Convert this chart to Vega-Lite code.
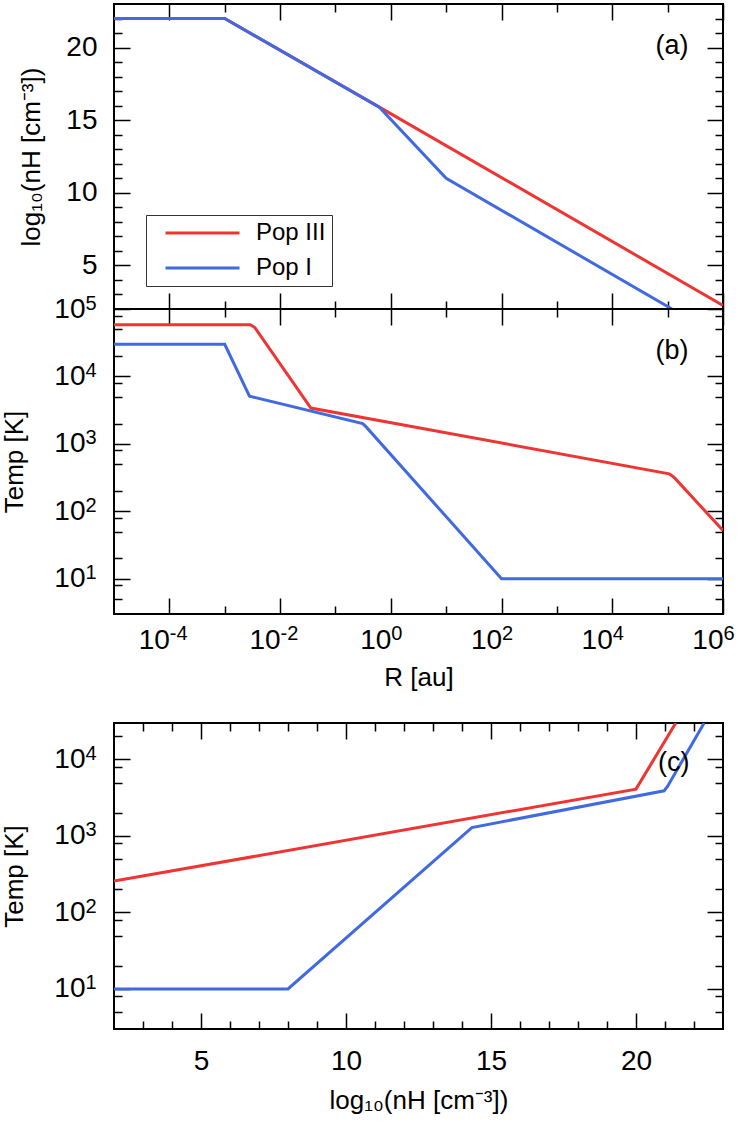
{
  "$schema": "https://vega.github.io/schema/vega-lite/v6.json",
  "padding": {"left": 0, "top": 2, "right": 0, "bottom": 0},
  "datasets": {
    "dens": [
      {"pop": "Pop III", "R": 1e-5, "logn": 22},
      {"pop": "Pop III", "R": 0.001, "logn": 22},
      {"pop": "Pop III", "R": 0.62, "logn": 15.9},
      {"pop": "Pop III", "R": 1000000, "logn": 2.25},
      {"pop": "Pop I", "R": 1e-5, "logn": 22},
      {"pop": "Pop I", "R": 0.001, "logn": 22},
      {"pop": "Pop I", "R": 0.62, "logn": 15.9},
      {"pop": "Pop I", "R": 10, "logn": 11},
      {"pop": "Pop I", "R": 120000, "logn": 2.0}
    ],
    "temp": [
      {"pop": "Pop III", "R": 1e-5, "T": 58500},
      {"pop": "Pop III", "R": 0.0029, "T": 58500},
      {"pop": "Pop III", "R": 0.0035, "T": 53000},
      {"pop": "Pop III", "R": 0.036, "T": 3400},
      {"pop": "Pop III", "R": 107000, "T": 360},
      {"pop": "Pop III", "R": 130000, "T": 320},
      {"pop": "Pop III", "R": 1000000, "T": 52},
      {"pop": "Pop I", "R": 1e-5, "T": 30000},
      {"pop": "Pop I", "R": 0.001, "T": 30000},
      {"pop": "Pop I", "R": 0.0028, "T": 5100},
      {"pop": "Pop I", "R": 0.31, "T": 2000},
      {"pop": "Pop I", "R": 0.355, "T": 1800},
      {"pop": "Pop I", "R": 100, "T": 10},
      {"pop": "Pop I", "R": 1000000, "T": 10}
    ],
    "tn": [
      {"pop": "Pop III", "logn": 2, "T": 257},
      {"pop": "Pop III", "logn": 20, "T": 4100},
      {"pop": "Pop III", "logn": 21.37, "T": 30000},
      {"pop": "Pop I", "logn": 2, "T": 10},
      {"pop": "Pop I", "logn": 8, "T": 10},
      {"pop": "Pop I", "logn": 14.34, "T": 1290},
      {"pop": "Pop I", "logn": 20.97, "T": 3900},
      {"pop": "Pop I", "logn": 21.08, "T": 4400},
      {"pop": "Pop I", "logn": 22.35, "T": 30000}
    ]
  },
  "vconcat": [
    {
      "vconcat": [
        {
          "width": 609,
          "height": 305,
          "layer": [
            {
              "data": {"name": "dens"},
              "mark": {"type": "line", "strokeWidth": 3, "clip": true},
              "encoding": {
                "x": {"field": "R", "type": "quantitative", "scale": {"type": "log", "domain": [1e-5, 1000000], "nice": false},
                  "axis": {"orient": "bottom", "values": [0.0001, 0.01, 1, 100, 10000, 1000000], "labels": false, "tickSize": -16, "title": null}},
                "y": {"field": "logn", "type": "quantitative", "scale": {"domain": [2, 23], "nice": false, "zero": false},
                  "axis": {"orient": "left", "values": [5, 10, 15, 20], "tickSize": -16, "labelPadding": 33, "title": "log₁₀(nH [cm⁻³])", "titlePadding": 21}},
                "color": {"field": "pop", "type": "nominal", "scale": {"domain": ["Pop III", "Pop I"], "range": ["#EF3434", "#4169E1"]},
                  "legend": {"orient": "none", "legendX": 32, "legendY": 211, "title": null, "symbolType": "stroke", "symbolSize": 5476, "symbolStrokeWidth": 3, "symbolOffset": 12, "labelFontSize": 24, "labelFont": "Liberation Sans", "labelColor": "black", "strokeColor": "#333333", "fillColor": "white", "padding": 6, "labelOffset": 15, "clipHeight": 24, "rowPadding": 11}}
              }
            },
            {
              "data": {"name": "dens"},
              "mark": {"type": "point", "opacity": 0, "size": 1},
              "encoding": {
                "x": {"field": "R", "type": "quantitative", "axis": {"orient": "bottom", "values": [0.001, 0.1, 10, 1000, 100000], "labels": false, "tickSize": -8, "title": null}},
                "y": {"field": "logn", "type": "quantitative", "axis": {"orient": "left", "values": [3, 4, 6, 7, 8, 9, 11, 12, 13, 14, 16, 17, 18, 19, 21, 22], "labels": false, "tickSize": -8, "title": null}}
              }
            },
            {
              "data": {"name": "dens"},
              "mark": {"type": "point", "opacity": 0, "size": 1},
              "encoding": {
                "x": {"field": "R", "type": "quantitative", "axis": {"orient": "top", "values": [0.0001, 0.01, 1, 100, 10000, 1000000], "labels": false, "tickSize": -16, "title": null}},
                "y": {"field": "logn", "type": "quantitative", "axis": {"orient": "right", "values": [5, 10, 15, 20], "labels": false, "tickSize": -16, "title": null}}
              }
            },
            {
              "data": {"name": "dens"},
              "mark": {"type": "point", "opacity": 0, "size": 1},
              "encoding": {
                "x": {"field": "R", "type": "quantitative", "axis": {"orient": "top", "values": [0.001, 0.1, 10, 1000, 100000], "labels": false, "tickSize": -8, "title": null}},
                "y": {"field": "logn", "type": "quantitative", "axis": {"orient": "right", "values": [3, 4, 6, 7, 8, 9, 11, 12, 13, 14, 16, 17, 18, 19, 21, 22], "labels": false, "tickSize": -8, "title": null}}
              }
            },
            {
              "data": {"values": [{"label": "(a)", "R": 120000, "logn": 20.1}]},
              "mark": {"type": "text", "fontSize": 27, "font": "Liberation Sans", "color": "black"},
              "encoding": {
                "x": {"field": "R", "type": "quantitative", "axis": null},
                "y": {"field": "logn", "type": "quantitative", "axis": null},
                "text": {"field": "label"}
              }
            }
          ],
          "resolve": {"axis": {"x": "independent", "y": "independent"}}
        },
        {
          "width": 609,
          "height": 305,
          "layer": [
            {
              "data": {"name": "temp"},
              "mark": {"type": "line", "strokeWidth": 3, "clip": true},
              "encoding": {
                "x": {"field": "R", "type": "quantitative", "scale": {"type": "log", "domain": [1e-5, 1000000], "nice": false},
                  "axis": {"orient": "bottom", "values": [0.0001, 0.01, 1, 100, 10000, 1000000], "tickSize": -16, "labelPadding": 28, "labelAlign": "right", "labelDx": 3, "labelExpr": "'10'", "title": "R [au]", "titlePadding": 10}},
                "y": {"field": "T", "type": "quantitative", "scale": {"type": "log", "domain": [3, 100000], "nice": false},
                  "axis": {"orient": "left", "values": [10, 100, 1000, 10000, 100000], "tickSize": -16, "labelPadding": 45, "labelDy": 1, "labelExpr": "'10'", "title": "Temp [K]", "titlePadding": 26}},
                "color": {"field": "pop", "type": "nominal", "scale": {"domain": ["Pop III", "Pop I"], "range": ["#EF3434", "#4169E1"]}, "legend": null}
              }
            },
            {
              "data": {"name": "temp"},
              "mark": {"type": "point", "opacity": 0, "size": 1},
              "encoding": {
                "x": {"field": "R", "type": "quantitative", "axis": {"orient": "bottom", "values": [0.001, 0.1, 10, 1000, 100000], "labels": false, "tickSize": -8, "title": null}},
                "y": {"field": "T", "type": "quantitative", "axis": {"orient": "left", "values": [5, 8, 20, 50, 80, 200, 500, 800, 2000, 5000, 8000, 20000, 50000, 80000], "labels": false, "tickSize": -8, "title": null}}
              }
            },
            {
              "data": {"name": "temp"},
              "mark": {"type": "point", "opacity": 0, "size": 1},
              "encoding": {
                "x": {"field": "R", "type": "quantitative", "axis": {"orient": "top", "values": [0.0001, 0.01, 1, 100, 10000, 1000000], "labels": false, "tickSize": -16, "title": null}},
                "y": {"field": "T", "type": "quantitative", "axis": {"orient": "right", "values": [10, 100, 1000, 10000, 100000], "labels": false, "tickSize": -16, "title": null}}
              }
            },
            {
              "data": {"name": "temp"},
              "mark": {"type": "point", "opacity": 0, "size": 1},
              "encoding": {
                "x": {"field": "R", "type": "quantitative", "axis": {"orient": "top", "values": [0.001, 0.1, 10, 1000, 100000], "labels": false, "tickSize": -8, "title": null}},
                "y": {"field": "T", "type": "quantitative", "axis": {"orient": "right", "values": [5, 8, 20, 50, 80, 200, 500, 800, 2000, 5000, 8000, 20000, 50000, 80000], "labels": false, "tickSize": -8, "title": null}}
              }
            },
            {
              "data": {"name": "temp"},
              "mark": {"type": "point", "opacity": 0, "size": 1},
              "encoding": {
                "x": {"field": "R", "type": "quantitative", "axis": {"orient": "bottom", "values": [0.0001, 0.01, 1, 100, 10000, 1000000], "tickSize": 0, "tickOpacity": 0, "labelFontSize": 20, "labelPadding": 9, "labelAlign": "left", "labelDx": 4, "title": null,
                  "labelExpr": "datum.value < 0.001 ? '-4' : datum.value < 0.1 ? '-2' : datum.value < 10 ? '0' : datum.value < 1000 ? '2' : datum.value < 100000 ? '4' : '6'"}},
                "y": {"field": "T", "type": "quantitative", "axis": {"orient": "left", "values": [10, 100, 1000, 10000, 100000], "tickSize": 0, "tickOpacity": 0, "labelFontSize": 20, "labelPadding": 18, "labelBaseline": "alphabetic", "labelDy": 1, "title": null,
                  "labelExpr": "datum.value < 50 ? '1' : datum.value < 500 ? '2' : datum.value < 5000 ? '3' : datum.value < 50000 ? '4' : '5'"}}
              }
            },
            {
              "data": {"values": [{"label": "(b)", "R": 120000, "T": 24000}]},
              "mark": {"type": "text", "fontSize": 27, "font": "Liberation Sans", "color": "black"},
              "encoding": {
                "x": {"field": "R", "type": "quantitative", "axis": null},
                "y": {"field": "T", "type": "quantitative", "axis": null},
                "text": {"field": "label"}
              }
            }
          ],
          "resolve": {"axis": {"x": "independent", "y": "independent"}}
        }
      ],
      "spacing": 0,
      "bounds": "flush",
      "resolve": {"scale": {"color": "independent"}, "legend": {"color": "independent"}}
    },
    {
      "width": 609,
      "height": 306,
      "layer": [
        {
          "data": {"name": "tn"},
          "mark": {"type": "line", "strokeWidth": 3, "clip": true},
          "encoding": {
            "x": {"field": "logn", "type": "quantitative", "scale": {"domain": [2, 23], "nice": false, "zero": false},
              "axis": {"orient": "bottom", "values": [5, 10, 15, 20], "tickSize": -16, "labelPadding": 34, "title": "log₁₀(nH [cm⁻³])", "titlePadding": 12}},
            "y": {"field": "T", "type": "quantitative", "scale": {"type": "log", "domain": [3, 30000], "nice": false},
              "axis": {"orient": "left", "values": [10, 100, 1000, 10000], "tickSize": -16, "labelPadding": 45, "labelDy": 1, "labelExpr": "'10'", "title": "Temp [K]", "titlePadding": 26}},
            "color": {"field": "pop", "type": "nominal", "scale": {"domain": ["Pop III", "Pop I"], "range": ["#EF3434", "#4169E1"]}, "legend": null}
          }
        },
        {
          "data": {"name": "tn"},
          "mark": {"type": "point", "opacity": 0, "size": 1},
          "encoding": {
            "x": {"field": "logn", "type": "quantitative", "axis": {"orient": "bottom", "values": [3, 4, 6, 7, 8, 9, 11, 12, 13, 14, 16, 17, 18, 19, 21, 22], "labels": false, "tickSize": -8, "title": null}},
            "y": {"field": "T", "type": "quantitative", "axis": {"orient": "left", "values": [5, 8, 20, 50, 80, 200, 500, 800, 2000, 5000, 8000, 20000], "labels": false, "tickSize": -8, "title": null}}
          }
        },
        {
          "data": {"name": "tn"},
          "mark": {"type": "point", "opacity": 0, "size": 1},
          "encoding": {
            "x": {"field": "logn", "type": "quantitative", "axis": {"orient": "top", "values": [5, 10, 15, 20], "labels": false, "tickSize": -16, "title": null}},
            "y": {"field": "T", "type": "quantitative", "axis": {"orient": "right", "values": [10, 100, 1000, 10000], "labels": false, "tickSize": -16, "title": null}}
          }
        },
        {
          "data": {"name": "tn"},
          "mark": {"type": "point", "opacity": 0, "size": 1},
          "encoding": {
            "x": {"field": "logn", "type": "quantitative", "axis": {"orient": "top", "values": [3, 4, 6, 7, 8, 9, 11, 12, 13, 14, 16, 17, 18, 19, 21, 22], "labels": false, "tickSize": -8, "title": null}},
            "y": {"field": "T", "type": "quantitative", "axis": {"orient": "right", "values": [5, 8, 20, 50, 80, 200, 500, 800, 2000, 5000, 8000, 20000], "labels": false, "tickSize": -8, "title": null}}
          }
        },
        {
          "data": {"name": "tn"},
          "mark": {"type": "point", "opacity": 0, "size": 1},
          "encoding": {
            "x": {"field": "logn", "type": "quantitative", "axis": null},
            "y": {"field": "T", "type": "quantitative", "axis": {"orient": "left", "values": [10, 100, 1000, 10000], "tickSize": 0, "tickOpacity": 0, "labelFontSize": 20, "labelPadding": 18, "labelBaseline": "alphabetic", "labelDy": 1, "title": null,
              "labelExpr": "datum.value < 50 ? '1' : datum.value < 500 ? '2' : datum.value < 5000 ? '3' : '4'"}}
          }
        },
        {
          "data": {"values": [{"label": "(c)", "logn": 21.3, "T": 8900}]},
          "mark": {"type": "text", "fontSize": 27, "font": "Liberation Sans", "color": "black"},
          "encoding": {
            "x": {"field": "logn", "type": "quantitative", "axis": null},
            "y": {"field": "T", "type": "quantitative", "axis": null},
            "text": {"field": "label"}
          }
        }
      ],
      "resolve": {"axis": {"x": "independent", "y": "independent"}}
    }
  ],
  "spacing": 30,
  "resolve": {"scale": {"color": "independent"}, "legend": {"color": "independent"}},
  "config": {
    "font": "Liberation Sans",
    "view": {"stroke": "black", "strokeWidth": 2},
    "axis": {"domain": false, "grid": false, "tickColor": "black", "tickWidth": 1.5, "labelFont": "Liberation Sans", "labelFontSize": 28, "labelColor": "black", "titleFont": "Liberation Sans", "titleFontSize": 26, "titleFontWeight": "normal", "titleColor": "black", "labelFlush": false, "labelOverlap": false}
  }
}
